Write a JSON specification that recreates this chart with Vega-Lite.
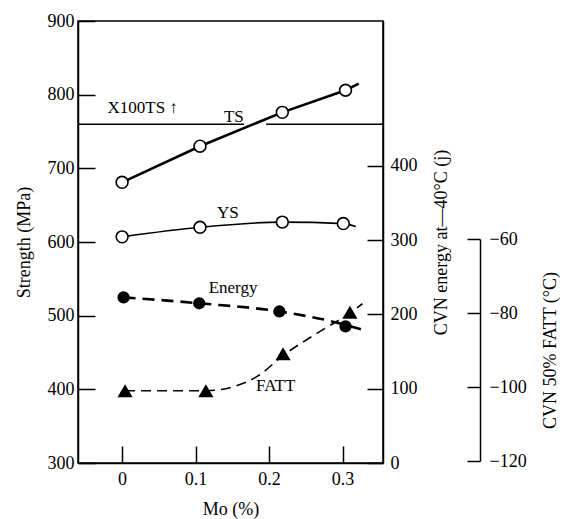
{
  "$schema": "https://vega.github.io/schema/vega-lite/v6.json",
  "width": 305,
  "height": 442,
  "autosize": "none",
  "padding": {"left": 78, "top": 21, "right": 181, "bottom": 56},
  "background": "white",
  "config": {
    "view": {"stroke": "black", "strokeWidth": 1.5},
    "font": "Liberation Serif",
    "axis": {
      "grid": false,
      "domainColor": "black",
      "domainWidth": 1.5,
      "tickColor": "black",
      "tickWidth": 1.5,
      "labelColor": "black",
      "titleColor": "black",
      "labelFont": "Liberation Serif",
      "titleFont": "Liberation Serif",
      "labelFontSize": 18,
      "titleFontSize": 18,
      "titleFontWeight": "normal"
    },
    "text": {"font": "Liberation Serif", "fontSize": 17, "color": "black"}
  },
  "datasets": {
    "hline": [
      {"mo": -0.06, "mo2": 0.166, "s": 760},
      {"mo": 0.196, "mo2": 0.355, "s": 760}
    ],
    "strength_lines": [
      {"series": "TS", "mo": 0.0, "s": 681},
      {"series": "TS", "mo": 0.106, "s": 730},
      {"series": "TS", "mo": 0.218, "s": 776},
      {"series": "TS", "mo": 0.304, "s": 806},
      {"series": "TS", "mo": 0.322, "s": 815},
      {"series": "YS", "mo": 0.0, "s": 607},
      {"series": "YS", "mo": 0.106, "s": 620},
      {"series": "YS", "mo": 0.218, "s": 627},
      {"series": "YS", "mo": 0.301, "s": 625},
      {"series": "YS", "mo": 0.318, "s": 621}
    ],
    "strength_pts": [
      {"series": "TS", "mo": 0.0, "s": 681},
      {"series": "TS", "mo": 0.106, "s": 730},
      {"series": "TS", "mo": 0.218, "s": 776},
      {"series": "TS", "mo": 0.304, "s": 806},
      {"series": "YS", "mo": 0.0, "s": 607},
      {"series": "YS", "mo": 0.106, "s": 620},
      {"series": "YS", "mo": 0.218, "s": 627},
      {"series": "YS", "mo": 0.301, "s": 625}
    ],
    "labels": [
      {"mo": 0.028, "s": 782, "text": "X100TS ↑"},
      {"mo": 0.152, "s": 770, "text": "TS"},
      {"mo": 0.144, "s": 639, "text": "YS"},
      {"mo": 0.151, "s": 537, "text": "Energy"},
      {"mo": 0.209, "s": 404, "text": "FATT"}
    ],
    "energy_pts": [
      {"mo": 0.002, "e": 223},
      {"mo": 0.105, "e": 215},
      {"mo": 0.214, "e": 204},
      {"mo": 0.304, "e": 184}
    ],
    "energy_curve": [
      {"mo": 0.002, "e": 223},
      {"mo": 0.105, "e": 215},
      {"mo": 0.214, "e": 204},
      {"mo": 0.304, "e": 186},
      {"mo": 0.325, "e": 180}
    ],
    "fatt_pts": [
      {"mo": 0.004, "f": -101},
      {"mo": 0.114, "f": -101},
      {"mo": 0.219, "f": -91},
      {"mo": 0.31, "f": -79.8}
    ],
    "fatt_curve": [
      {"mo": 0.004, "f": -101},
      {"mo": 0.114, "f": -101},
      {"mo": 0.15, "f": -100},
      {"mo": 0.185, "f": -97},
      {"mo": 0.219, "f": -91.5},
      {"mo": 0.265, "f": -85.5},
      {"mo": 0.31, "f": -80},
      {"mo": 0.327, "f": -77.5}
    ]
  },
  "encoding": {
    "x": {
      "field": "mo",
      "type": "quantitative",
      "scale": {"domain": [-0.06, 0.355], "nice": false, "zero": false},
      "axis": {
        "values": [0, 0.1, 0.2, 0.3],
        "labelExpr": "datum.value == 0 ? '0' : format(datum.value, '.1f')",
        "tickSize": -17,
        "labelPadding": 24,
        "title": "Mo (%)",
        "titlePadding": 12
      }
    }
  },
  "layer": [
    {
      "encoding": {
        "y": {
          "field": "s",
          "type": "quantitative",
          "scale": {"domain": [300, 900], "nice": false, "zero": false},
          "axis": {
            "orient": "left",
            "values": [300, 400, 500, 600, 700, 800, 900],
            "tickSize": -17,
            "labelPadding": 21,
            "title": "Strength  (MPa)",
            "titlePadding": 14
          }
        }
      },
      "layer": [
        {
          "data": {"name": "hline"},
          "mark": {"type": "rule", "color": "black", "strokeWidth": 1.5},
          "encoding": {
            "x": {"field": "mo", "type": "quantitative"},
            "x2": {"field": "mo2"}
          }
        },
        {
          "data": {"name": "strength_lines"},
          "transform": [{"filter": "datum.series == 'TS'"}],
          "mark": {"type": "line", "color": "black", "strokeWidth": 2.6},
          "encoding": {}
        },
        {
          "data": {"name": "strength_lines"},
          "transform": [{"filter": "datum.series == 'YS'"}],
          "mark": {"type": "line", "color": "black", "strokeWidth": 1.6, "interpolate": "monotone"},
          "encoding": {}
        },
        {
          "data": {"name": "strength_pts"},
          "mark": {"type": "point", "shape": "circle", "filled": true, "fill": "white", "stroke": "black", "strokeWidth": 1.6, "size": 140, "opacity": 1},
          "encoding": {}
        },
        {
          "data": {"name": "labels"},
          "mark": {"type": "text", "align": "center", "baseline": "middle"},
          "encoding": {"text": {"field": "text"}}
        }
      ]
    },
    {
      "encoding": {
        "y": {
          "field": "e",
          "type": "quantitative",
          "scale": {"domain": [0, 595], "nice": false, "zero": false},
          "axis": {
            "orient": "right",
            "values": [0, 100, 200, 300, 400],
            "tickSize": -16,
            "labelPadding": 23,
            "title": "CVN energy at—40°C (j)",
            "titleAngle": 270,
            "titlePadding": 33
          }
        }
      },
      "layer": [
        {
          "data": {"name": "energy_curve"},
          "mark": {"type": "line", "color": "black", "strokeWidth": 2.6, "strokeDash": [12, 7], "interpolate": "monotone"},
          "encoding": {}
        },
        {
          "data": {"name": "energy_pts"},
          "mark": {"type": "point", "shape": "circle", "filled": true, "fill": "black", "size": 150, "opacity": 1},
          "encoding": {}
        }
      ]
    },
    {
      "encoding": {
        "y": {
          "field": "f",
          "type": "quantitative",
          "scale": {"domain": [-120, -60], "range": [440, 218], "nice": false, "zero": false},
          "axis": {
            "orient": "right",
            "offset": 97,
            "values": [-120, -100, -80, -60],
            "tickSize": -13,
            "labelPadding": 22,
            "title": "CVN 50% FATT (°C)",
            "titleAngle": 270,
            "titlePadding": 33
          }
        }
      },
      "layer": [
        {
          "data": {"name": "fatt_curve"},
          "mark": {"type": "line", "color": "black", "strokeWidth": 1.6, "strokeDash": [10, 6], "interpolate": "monotone"},
          "encoding": {}
        },
        {
          "data": {"name": "fatt_pts"},
          "mark": {"type": "point", "shape": "triangle-up", "filled": true, "fill": "black", "size": 230, "opacity": 1},
          "encoding": {}
        }
      ]
    }
  ],
  "resolve": {"scale": {"y": "independent"}, "axis": {"y": "independent"}}
}
